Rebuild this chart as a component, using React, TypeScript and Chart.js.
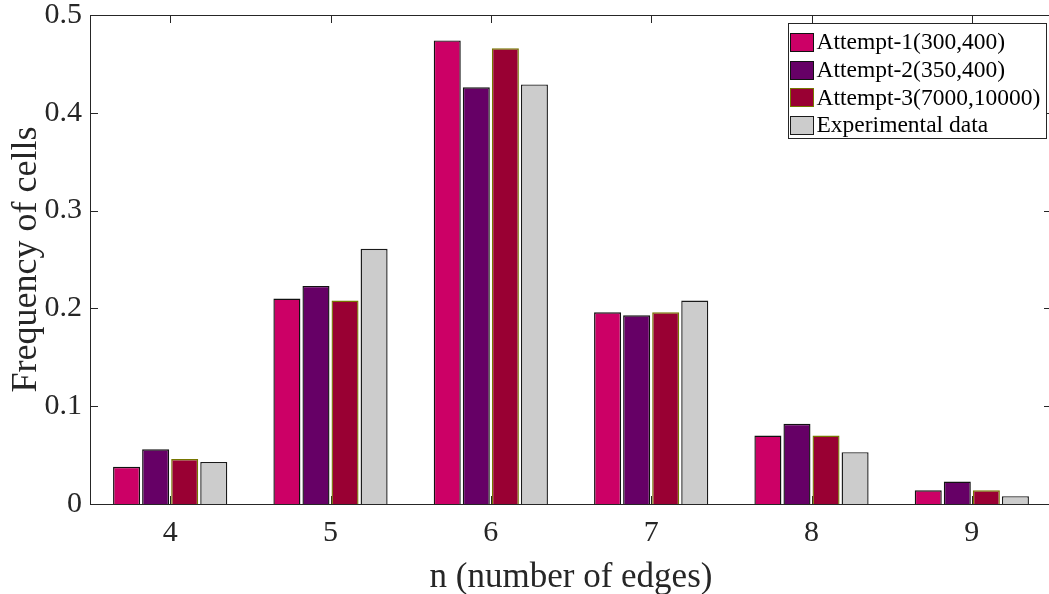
import { useEffect, useRef } from 'react';
import { Chart, registerables } from 'chart.js';

Chart.register(...registerables);

// Number of edges per cell (x categories)
const edgeCounts = ['4', '5', '6', '7', '8', '9'];

// Frequency of cells for each simulation attempt and the measured data
const attempt1 = [0.038, 0.21, 0.474, 0.196, 0.07, 0.014];
const attempt2 = [0.056, 0.223, 0.426, 0.193, 0.082, 0.023];
const attempt3 = [0.046, 0.208, 0.466, 0.196, 0.07, 0.014];
const experimental = [0.043, 0.261, 0.429, 0.208, 0.053, 0.008];

const seriesLabels = [
  'Attempt-1(300,400)',
  'Attempt-2(350,400)',
  'Attempt-3(7000,10000)',
  'Experimental data',
];
const seriesFill = ['#CC0066', '#660066', '#990033', '#CCCCCC'];
const seriesEdge = ['#111111', '#111111', '#767600', '#1a1a1a'];

const yTickValues = [0, 0.1, 0.2, 0.3, 0.4, 0.5];

const SERIF = "'Liberation Serif', 'Times New Roman', serif";
const AXIS_COLOR = '#262626';
const TICK_LEN = 8;

// Axis box with inward-pointing ticks on all four sides
const axisBoxPlugin = {
  id: 'axisBox',
  beforeDatasetsDraw(chart: any) {
    const { ctx, chartArea, scales } = chart;
    const { left, right, top, bottom } = chartArea;
    ctx.save();
    ctx.strokeStyle = AXIS_COLOR;
    ctx.lineWidth = 1;
    ctx.beginPath();
    edgeCounts.forEach((_, i) => {
      const x = Math.round(scales.x.getPixelForTick(i)) + 0.5;
      ctx.moveTo(x, bottom);
      ctx.lineTo(x, bottom - TICK_LEN);
      ctx.moveTo(x, top);
      ctx.lineTo(x, top + TICK_LEN);
    });
    yTickValues.forEach((v) => {
      const y = Math.round(scales.y.getPixelForValue(v)) + 0.5;
      ctx.moveTo(left, y);
      ctx.lineTo(left + TICK_LEN, y);
      ctx.moveTo(right, y);
      ctx.lineTo(right - TICK_LEN, y);
    });
    ctx.stroke();
    ctx.restore();
  },
  afterDatasetsDraw(chart: any) {
    const { ctx, chartArea } = chart;
    const l = Math.round(chartArea.left) + 0.5;
    const r = Math.round(chartArea.right) + 0.5;
    const t = Math.round(chartArea.top) + 0.5;
    const b = Math.round(chartArea.bottom) + 0.5;
    ctx.save();
    ctx.strokeStyle = AXIS_COLOR;
    ctx.lineWidth = 1;
    ctx.strokeRect(l, t, r - l, b - t);
    ctx.restore();
  },
};

// Boxed legend in the upper right corner of the plot
const boxLegendPlugin = {
  id: 'boxLegend',
  afterDraw(chart: any) {
    const { ctx, chartArea } = chart;
    const bx = Math.round(chartArea.right) - 264 + 0.5;
    const by = Math.round(chartArea.top) + 8 + 0.5;
    const bw = 258;
    const bh = 115;
    ctx.save();
    ctx.fillStyle = '#ffffff';
    ctx.fillRect(bx, by, bw, bh);
    ctx.strokeStyle = AXIS_COLOR;
    ctx.lineWidth = 1;
    ctx.strokeRect(bx, by, bw, bh);
    ctx.font = `23.5px ${SERIF}`;
    ctx.textBaseline = 'middle';
    ctx.textAlign = 'left';
    chart.data.datasets.forEach((ds: any, i: number) => {
      const cy = by + 18.5 + i * 27.7;
      const sx = bx + 2;
      const sy = Math.round(cy - 9) + 0.5;
      ctx.fillStyle = ds.backgroundColor;
      ctx.fillRect(sx, sy, 23, 18);
      ctx.strokeStyle = ds.borderColor;
      ctx.strokeRect(sx, sy, 23, 18);
      ctx.fillStyle = '#000000';
      ctx.fillText(ds.label, bx + 28, cy + 1);
    });
    ctx.restore();
  },
};

export default function App() {
  const canvasRef = useRef<HTMLCanvasElement | null>(null);

  useEffect(() => {
    const canvas = canvasRef.current;
    if (!canvas) return;
    const seriesValues = [attempt1, attempt2, attempt3, experimental];
    const chart = new Chart(canvas, {
      type: 'bar',
      data: {
        labels: edgeCounts,
        datasets: seriesValues.map((values, i) => ({
          label: seriesLabels[i],
          data: values,
          backgroundColor: seriesFill[i],
          borderColor: seriesEdge[i],
          borderWidth: 1.4,
          categoryPercentage: 0.725,
          barPercentage: 0.93,
        })),
      },
      options: {
        responsive: false,
        animation: false,
        devicePixelRatio: 1,
        layout: { padding: { top: 15, right: 8, left: 0, bottom: 0 } },
        plugins: {
          legend: { display: false },
          tooltip: { enabled: false },
        },
        scales: {
          x: {
            type: 'category',
            offset: true,
            grid: { display: false, drawTicks: false },
            border: { display: false },
            ticks: {
              padding: 11,
              color: AXIS_COLOR,
              font: { family: SERIF, size: 30 },
            },
            title: {
              display: true,
              text: 'n (number of edges)',
              color: AXIS_COLOR,
              font: { family: SERIF, size: 35, lineHeight: 0.9 },
              padding: { top: 0, bottom: 0 },
            },
            afterFit: (scale: any) => {
              scale.height = 90;
              scale.paddingLeft = 0;
              scale.paddingRight = 0;
            },
          },
          y: {
            min: 0,
            max: 0.5,
            grid: { display: false, drawTicks: false },
            border: { display: false },
            ticks: {
              stepSize: 0.1,
              padding: 8,
              color: AXIS_COLOR,
              font: { family: SERIF, size: 30 },
            },
            title: {
              display: true,
              text: 'Frequency of cells',
              color: AXIS_COLOR,
              font: { family: SERIF, size: 36, lineHeight: 1.15 },
              padding: { top: 6, bottom: 0 },
            },
            afterFit: (scale: any) => {
              scale.width = 90;
              scale.paddingTop = 0;
              scale.paddingBottom = 0;
            },
          },
        },
      },
      plugins: [axisBoxPlugin, boxLegendPlugin],
    });
    return () => chart.destroy();
  }, []);

  return (
    <div
      style={{
        position: 'fixed',
        left: 0,
        top: 0,
        width: 1049,
        height: 594,
        overflow: 'hidden',
        background: '#ffffff',
      }}
    >
      <canvas ref={canvasRef} width={1060} height={594} style={{ display: 'block' }} />
    </div>
  );
}
